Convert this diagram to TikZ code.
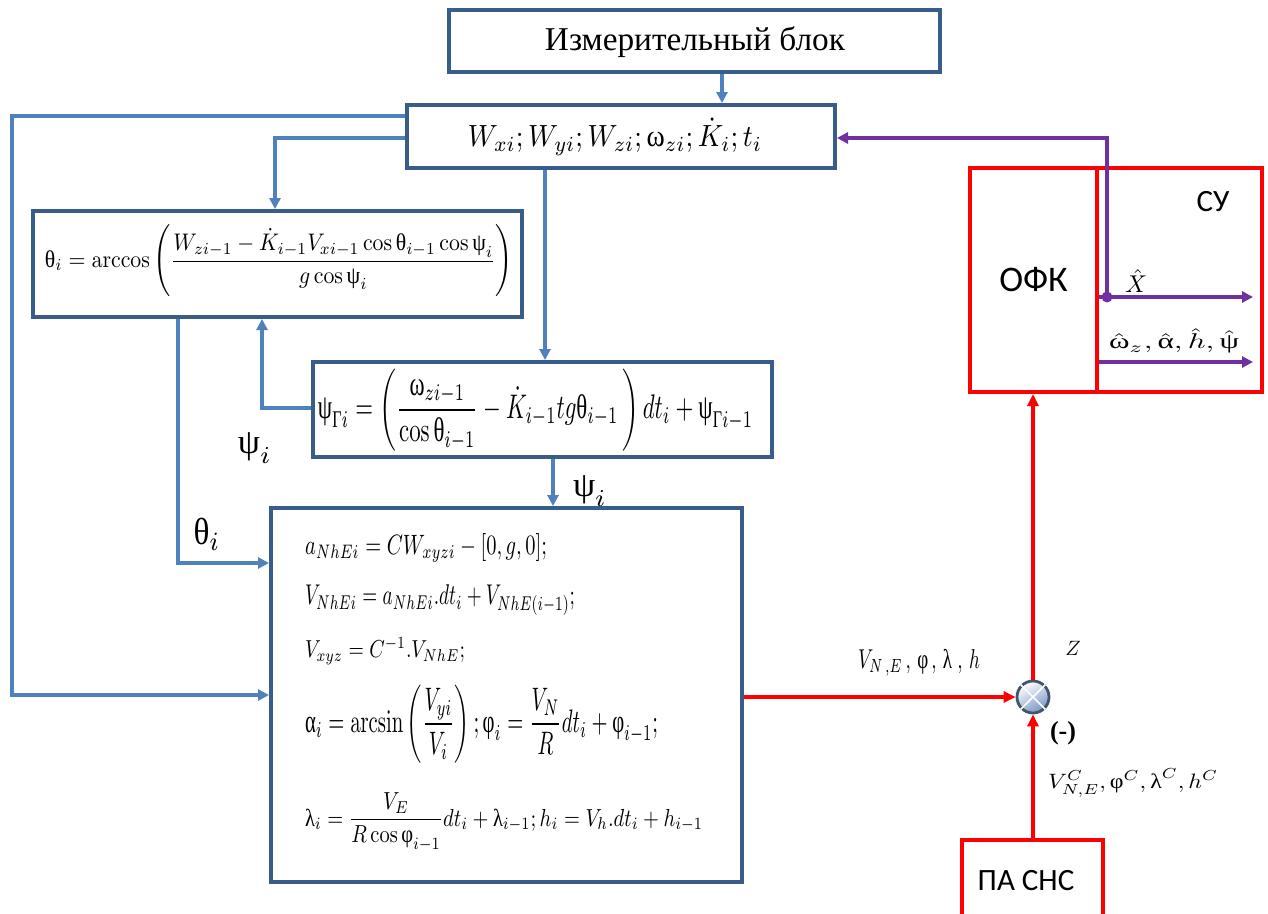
\documentclass[tikz,border=0pt]{standalone}
\usepackage{amsmath}
\usepackage{graphicx}
\usepackage[no-math]{fontspec}
\setmainfont{Liberation Serif}
\newfontfamily\calibri{Carlito}
\usetikzlibrary{arrows.meta,calc}
\definecolor{boxblue}{RGB}{56,93,138}
\definecolor{lineblue}{RGB}{79,129,189}
\definecolor{ofkred}{RGB}{255,0,0}
\definecolor{purp}{RGB}{112,48,160}
\definecolor{sumedge}{RGB}{68,84,106}
\definecolor{sumfill}{RGB}{120,150,195}
\newcommand{\gTh}{\text{θ}}
\newcommand{\gPs}{\text{ψ}}
\newcommand{\gOm}{\text{ω}}
\newcommand{\gAl}{\text{α}}
\newcommand{\gPh}{\text{φ}}
\newcommand{\gLa}{\text{λ}}
\newcommand{\gGa}{\text{Γ}}
\tikzset{
  bbox/.style={draw=boxblue, line width=4pt, inner sep=0pt, fill=white},
  rbox/.style={draw=ofkred, line width=4pt, inner sep=0pt},
  conn/.style={draw=lineblue, line width=3.5pt, -{Triangle[length=11pt,width=11pt]}},
  rconn/.style={draw=ofkred, line width=4pt, -{Triangle[length=12pt,width=11pt]}},
  pconn/.style={draw=purp, line width=3.5pt, -{Triangle[length=11pt,width=11pt]}},
  lbl/.style={inner sep=0pt, outer sep=0pt},
}
\begin{document}
\begin{tikzpicture}[x=1pt,y=-1pt]
\path[fill=white, use as bounding box] (0,0) rectangle (1268,913);

% boxes
\node[bbox, minimum width=491pt, minimum height=62pt] (top) at (694.5,41) {};
\node[lbl] (toptxt) at (695,42) {\resizebox{300pt}{!}{Измерительный блок}};

\node[bbox, minimum width=428pt, minimum height=63pt] (W) at (621,136.5) {};
\node[lbl] (Wtxt) at (615,137) {\resizebox*{294pt}{37pt}{$W_{xi}; W_{yi}; W_{zi}; \gOm_{zi}; \dot{K}_i; t_i$}};

\node[bbox, minimum width=489pt, minimum height=106pt] (T) at (277.5,264) {};
\node[lbl] (Ttxt) at (279,261) {\resizebox*{468pt}{72pt}{$\gTh_i = \arccos\left(\dfrac{W_{zi-1} - \dot{K}_{i-1} V_{xi-1}\cos\gTh_{i-1}\cos\gPs_i}{g\cos\gPs_i}\right)$}};

\node[bbox, minimum width=459pt, minimum height=95pt] (P) at (542.5,409.5) {};
\node[lbl] (Ptxt) at (535.5,410) {\resizebox*{435pt}{82pt}{$\gPs_{\gGa i} = \left(\dfrac{\gOm_{zi-1}}{\cos\gTh_{i-1}} - \dot{K}_{i-1} tg\gTh_{i-1}\,\right) dt_i + \gPs_{\gGa i-1}$}};

\node[bbox, minimum width=471pt, minimum height=374pt] (B) at (506.5,695) {};
\node[lbl, anchor=west] (e1) at (305,548) {\resizebox*{242pt}{29pt}{$a_{NhEi} = CW_{xyzi} - [0, g, 0];$}};
\node[lbl, anchor=west] (e2) at (305,600) {\resizebox*{270pt}{30pt}{$V_{NhEi} = a_{NhEi}.dt_i + V_{NhE(i-1)};$}};
\node[lbl, anchor=west] (e3) at (305,651) {\resizebox*{160pt}{27pt}{$V_{xyz} = C^{-1}.V_{NhE};$}};
\node[lbl, anchor=west] (e4) at (305,724) {\resizebox*{353pt}{78pt}{$\gAl_i = \arcsin\left(\dfrac{V_{yi}}{V_i}\right); \gPh_i = \dfrac{V_N}{R} dt_i + \gPh_{i-1};$}};
\node[lbl, anchor=west] (e5) at (305,822) {\resizebox*{398pt}{59pt}{$\gLa_i = \dfrac{V_E}{R\cos\gPh_{i-1}} dt_i + \gLa_{i-1}; h_i = V_h.dt_i + h_{i-1}$}};

% red boxes
\node[rbox, minimum width=127pt, minimum height=224pt] (OFK) at (1033.5,280) {\calibri\fontsize{36}{36}\selectfont ОФК};
\node[rbox, minimum width=165pt, minimum height=224pt] (SU) at (1179.5,280) {};
\node[lbl] (SUtxt) at (1213,202) {\calibri\fontsize{31}{31}\selectfont СУ};
\node[rbox, minimum width=141pt, minimum height=90pt] (PA) at (1032.5,885) {};
\node[lbl] (PAtxt) at (1026,881) {\calibri\fontsize{31}{31}\selectfont ПА СНС};

% summing junction
\node[circle, minimum size=32pt, inner sep=0pt, draw=sumedge, line width=2.8pt,
      top color=white, bottom color=sumfill, shading angle=30] (S) at (1033,697) {};
\draw[white, line width=1.6pt] (S.north west) -- (S.south east) (S.north east) -- (S.south west);

% coordinates
\coordinate (xA) at (722,0);
\coordinate (L1) at (12,116);
\coordinate (L2) at (12,695);
\coordinate (L3) at (275,138);
\coordinate (xB) at (545,0);
\coordinate (L5) at (262,408);
\coordinate (L6) at (178,563);
\coordinate (xC) at (553,0);
\coordinate (D) at (1107,297);
\coordinate (U) at (1107,138);
\coordinate (E1) at (1253,297);
\coordinate (E2) at (1253,362);

% blue connectors
\draw[conn] (top.south -| xA) -- (W.north -| xA);
\draw[conn] (W.west |- L1) -- (L1) -- (L2) -- (B.west |- L2);
\draw[conn] (W.west |- L3) -- (L3) -- (T.north -| L3);
\draw[conn] (W.south -| xB) -- (P.north -| xB);
\draw[conn] (P.west |- L5) -- (L5) -- (T.south -| L5);
\draw[conn] (T.south -| L6) -- (L6) -- (B.west |- L6);
\draw[conn] (P.south -| xC) -- (B.north -| xC);

% red connectors
\draw[rconn] (B.east |- S) -- (S.west);
\draw[rconn] (PA.north -| S) -- (S.south);
\draw[rconn] (S.north) -- (OFK.south -| S);

% purple connectors
\draw[pconn] (D) -- (U) -- (W.east |- U);
\fill[purp] (D) circle (5.5pt);
\draw[pconn] (OFK.east |- E1) -- (E1);
\draw[pconn] (OFK.east |- E2) -- (E2);

% labels
\node[lbl] (lpsi1) at (255,448) {\resizebox*{34pt}{30pt}{$\gPs_i$}};
\node[lbl] (lth) at (207,534) {\resizebox*{27pt}{32pt}{$\gTh_i$}};
\node[lbl] (lpsi2) at (590,491) {\resizebox*{34pt}{30pt}{$\gPs_i$}};
\node[lbl] (lv) at (919,663) {\resizebox*{122pt}{27pt}{$V_{N\,,E}\,,\,\gPh\,,\,\gLa\;,\,h$}};
\node[lbl] (lz) at (1073,648) {\fontsize{22}{22}\selectfont $Z$};
\node[lbl] (lm) at (1063,733) {\fontsize{26}{26}\selectfont\textbf{(-)}};
\node[lbl] (lvc) at (1133,783) {\resizebox*{170pt}{28pt}{$V^{C}_{N,E}, \gPh^{C}, \gLa^{C}, h^{C}$}};
\node[lbl] (lx) at (1136,281) {\resizebox*{22pt}{23pt}{$\hat{X}$}};
\node[lbl] (lw) at (1174,341) {\resizebox*{130pt}{25pt}{$\hat{\gOm}_z, \hat{\gAl}, \hat{h}, \hat{\gPs}$}};
\end{tikzpicture}
\end{document}
